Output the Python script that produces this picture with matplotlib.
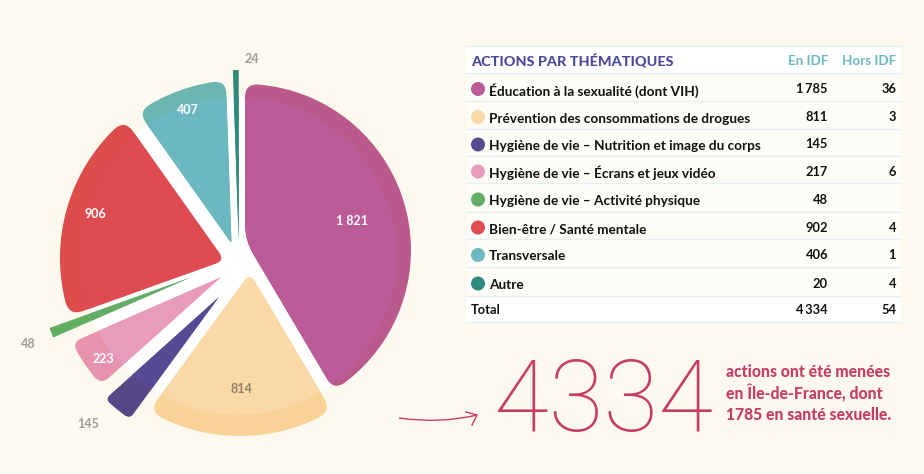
import numpy as np
import matplotlib
matplotlib.use('Agg')
import matplotlib.pyplot as plt
from matplotlib.path import Path
from matplotlib.patches import PathPatch, Circle, Rectangle

plt.rcParams['font.family'] = ['Lato', 'DejaVu Sans']

# Pie values (clockwise from the top)
pie_values = [1821, 814, 145, 223, 48, 906, 407, 24]
pie_labels = ['1 821', '814', '145', '223', '48', '906', '407', '24']

# Table
themes = ['Éducation à la sexualité (dont VIH)', 'Prévention des consommations de drogues',
          'Hygiène de vie – Nutrition et image du corps', 'Hygiène de vie – Écrans et jeux vidéo',
          'Hygiène de vie – Activité physique', 'Bien-être / Santé mentale', 'Transversale', 'Autre']
en_idf = ['1\u2009785', '811', '145', '217', '48', '902', '406', '20']
hors_idf = ['36', '3', '', '6', '', '4', '1', '4']
total_row = ['Total', '4\u2009334', '54']

# Style per slice
col_in = ['#BB5B97', '#FAD9A7', '#574A93', '#E99BBB', '#62AE68', '#DE4C52', '#6BB8C0', '#2F8A7E']
col_out = ['#BA5A8C', '#F9D298', '#584787', '#E893AE', '#62AE60', '#DC4C4C', '#6BB5B2', '#2F8A78']
radius = [166, 178, 195, 188, 203, 180, 178, 188]
shift_x = [5, 0, 0, 0, 0, 0, 0, -1]
shift_y = [-8, 0, 0, 0, 0, 0, 0, 0]
gap_start = [0, -1, -6, -1.5, 2, 3, 1.5, 0.3]
gap_end = [5, 17, 15, 10, 1.7, 14, 8, 0.3]
round_out = [13, 14, 6, 10, 1, 14, 13, 0.5]
round_apex = [16, 10, 0, 0, 0, 9, 3, 0]
label_pos = [(352, 221), (241, 389), (88, 424), (103, 359), (28, 344), (95, 214), (188, 110), (252, 59)]
label_col = ['white', '#8F8068', '#A09D95', 'white', '#A09D95', 'white', 'white', '#A09D95']

cx, cy = 240, 258
bg = '#FEF9EE'


def slice_path(a0, a1, c, R, g0, g1, t_out, t_apex):
    def pt(a):
        return np.array([c[0] + R*np.sin(a), c[1] - R*np.cos(a)])
    n0 = np.array([np.cos(a0), np.sin(a0)])
    n1 = -np.array([np.cos(a1), np.sin(a1)])
    # apex = where the two inset edges meet
    apex = np.array(c) + np.linalg.solve(np.array([n0, n1]), np.array([g0, g1]))
    o0 = a0 + np.arcsin(g0/R)
    o1 = a1 - np.arcsin(g1/R)
    A, B = pt(o0), pt(o1)
    uA = (A-apex)/np.linalg.norm(A-apex)
    uB = (B-apex)/np.linalg.norm(B-apex)
    v = [apex + uA*t_apex, A - uA*t_out, A, pt(o0 + t_out/R)]
    k = [Path.MOVETO, Path.LINETO, Path.CURVE3, Path.CURVE3]
    for a in np.linspace(o0 + t_out/R, o1 - t_out/R, 40)[1:]:
        v.append(pt(a))
        k.append(Path.LINETO)
    v += [B, B - uB*t_out, apex + uB*t_apex, apex, apex + uA*t_apex, apex + uA*t_apex]
    k += [Path.CURVE3, Path.CURVE3, Path.LINETO, Path.CURVE3, Path.CURVE3, Path.CLOSEPOLY]
    return Path(v, k)


fig = plt.figure(figsize=(9.24, 4.74), dpi=100, facecolor=bg)
ax = fig.add_axes([0, 0, 1, 1])
ax.set_xlim(0, 924)
ax.set_ylim(474, 0)
ax.axis('off')

#%% pie
disc = Circle((238, 256), 159, fc='white', ec='none', zorder=1)
ax.add_patch(disc)

edges = np.deg2rad(np.concatenate([[0], np.cumsum(pie_values)]) / np.sum(pie_values) * 360)
for i in range(len(pie_values)):
    p = slice_path(edges[i], edges[i+1], (cx + shift_x[i], cy + shift_y[i]), radius[i],
                   gap_start[i], gap_end[i], round_out[i], round_apex[i])
    ax.add_patch(PathPatch(p, fc=col_out[i], ec='none', zorder=2))
    inner = PathPatch(p, fc=col_in[i], ec='none', zorder=3)
    ax.add_patch(inner)
    inner.set_clip_path(disc)
    ax.text(label_pos[i][0], label_pos[i][1], pie_labels[i], color=label_col[i], fontsize=9,
            fontweight='bold', ha='center', va='center', zorder=4)

#%% table
x0, x1 = 466, 901
lines = [46, 73, 101, 129, 156, 183, 212, 239, 267, 296, 322]
ax.add_patch(Rectangle((x0, 73), x1-x0, 223, fc='#FEFCF7', ec='none'))
ax.add_patch(Rectangle((x0, 46), x1-x0, 27, fc='white', ec='none'))
ax.add_patch(Rectangle((x0, 296), x1-x0, 26, fc='white', ec='none'))
for y in lines:
    ax.plot([x0, x1], [y, y], color='#E4F0F2', lw=1, zorder=2)

ax.text(471, 61, 'ACTIONS PAR THÉMATIQUES', color='#4A4A9C', fontsize=10.4, fontweight='black',
        ha='left', va='center')
ax.text(828, 61, 'En IDF', color='#6BB8C0', fontsize=9.6, fontweight='bold', ha='right', va='center')
ax.text(896, 61, 'Hors IDF', color='#6BB8C0', fontsize=9.6, fontweight='bold', ha='right', va='center')

for i, theme in enumerate(themes):
    ymid = (lines[i+1] + lines[i+2]) / 2
    ax.add_patch(Circle((478, ymid + 2), 7, fc=col_in[i], ec='none', zorder=3))
    ax.text(489, ymid + 3.5, theme, color='#111111', fontsize=9.8, fontweight='bold', ha='left', va='center')
    ax.text(828, ymid + 2, en_idf[i], color='#111111', fontsize=9.3, fontweight='bold', ha='right', va='center')
    ax.text(896, ymid + 2, hors_idf[i], color='#111111', fontsize=9.3, fontweight='bold', ha='right', va='center')

ax.text(471, 309.5, total_row[0], color='#111111', fontsize=9.3, fontweight='bold', ha='left', va='center')
ax.text(828, 309.5, total_row[1], color='#111111', fontsize=9.3, fontweight='bold', ha='right', va='center')
ax.text(896, 309.5, total_row[2], color='#111111', fontsize=9.3, fontweight='bold', ha='right', va='center')

#%% big number and note
rose = '#C63D67'
ax.text(494, 431, '4334', color=rose, fontsize=72, fontweight='light', ha='left', va='baseline',
        family=['Roboto', 'DejaVu Sans'])
for y, s in zip([372, 393, 415], ['actions ont été menées', 'en Île-de-France, dont', '1785 en santé sexuelle.']):
    ax.text(726, y, s, color=rose, fontsize=11.3, fontweight='black', ha='left', va='center')

arrow = Path([(399, 418), (440, 424), (477, 415)], [Path.MOVETO, Path.CURVE3, Path.CURVE3])
ax.add_patch(PathPatch(arrow, fc='none', ec=rose, lw=1))
ax.plot([466, 477, 472], [412, 415, 425], color=rose, lw=1)

fig.savefig('out.png', dpi=100, facecolor=bg)
